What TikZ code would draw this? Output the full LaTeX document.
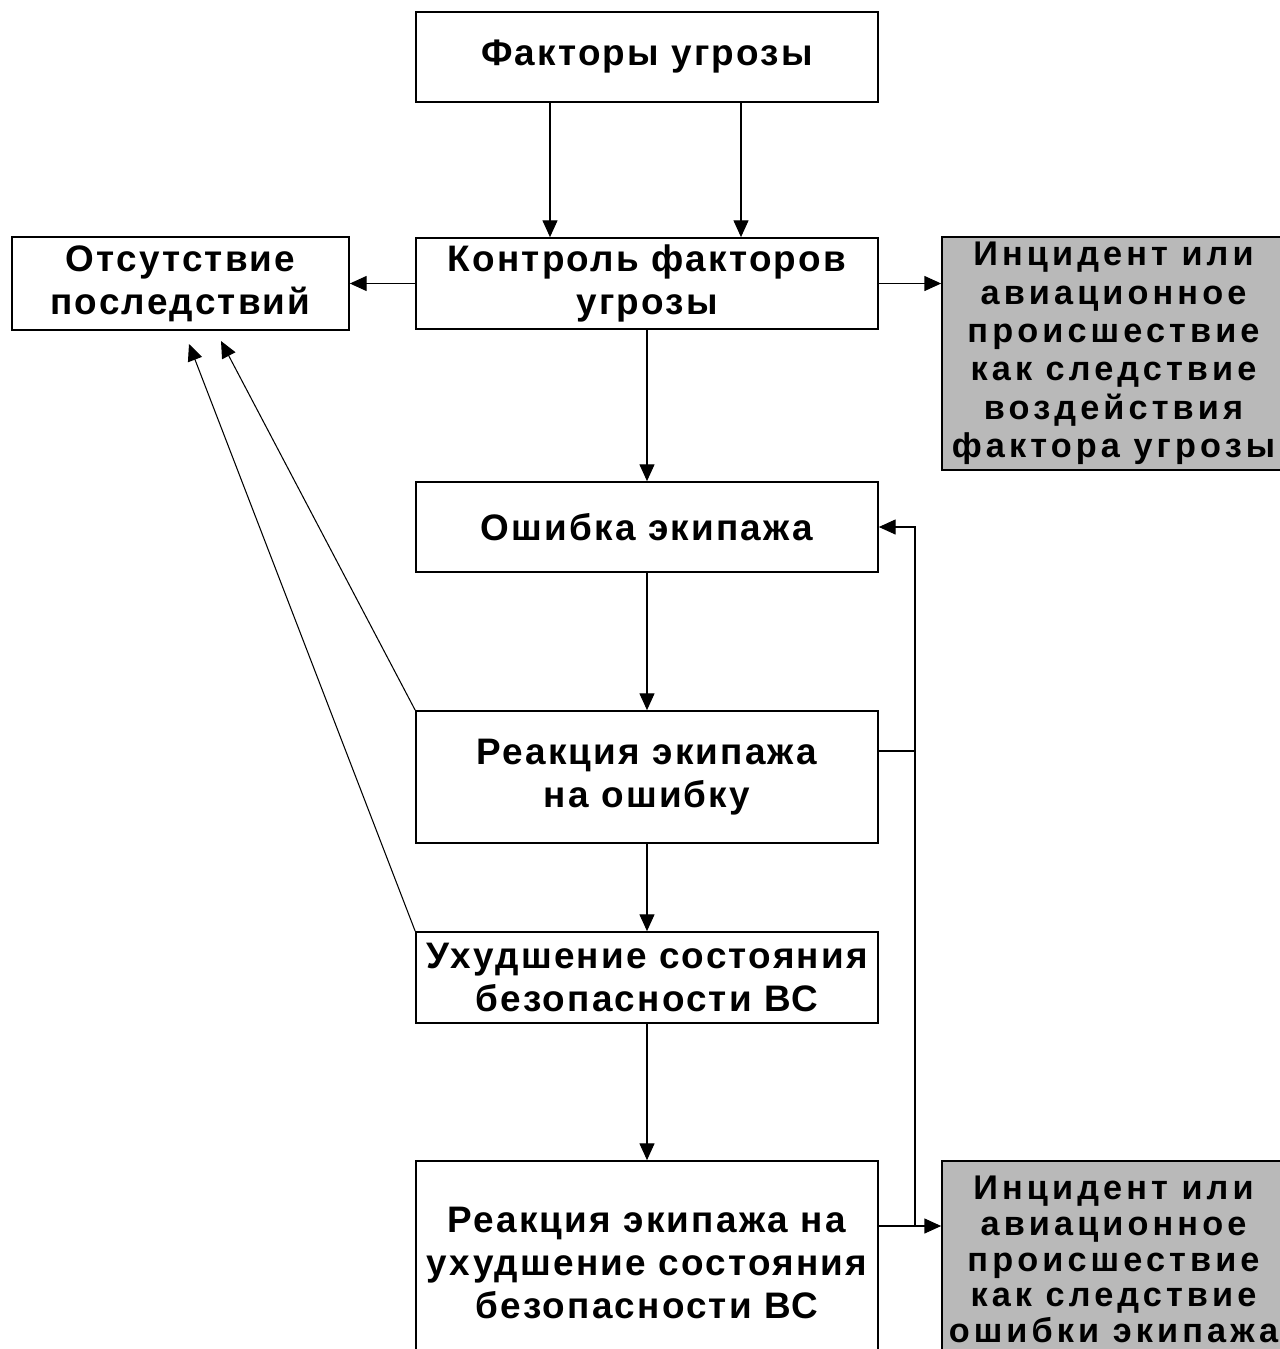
\documentclass[tikz,border=0pt]{standalone}
\usepackage{fontspec}
\setmainfont{Liberation Sans}
\newfontfamily\razbor[LetterSpace=6]{Liberation Sans}
\newfontfamily\razborsh[LetterSpace=12]{Liberation Sans}
\usetikzlibrary{arrows.meta,positioning,calc}

\tikzset{
  blok/.style={draw, line width=1pt, align=center, inner sep=0pt,
    font=\razbor\bfseries\fontsize{21}{24.5}\selectfont, minimum width=9.24cm},
  seryj/.style={blok, fill=gray!55, minimum width=6.86cm,
    font=\razborsh\bfseries\fontsize{19.5}{21.8}\selectfont},
  strelka/.style={-{Triangle[length=9.5pt,width=8.5pt]}, line width=0.6pt},
}

\begin{document}
\begin{tikzpicture}[x=0.02cm, y=-0.02cm]
  \useasboundingbox (0,0) rectangle (1280,1349);
  \clip (0,0) rectangle (1280,1349);

  % bloki
  \node[blok, minimum height=1.8cm] (faktory) at (647,57) {Факторы угрозы};
  \node[blok, minimum height=1.82cm] (kontrol) at (647,283.5) {Контроль факторов\\угрозы};
  \node[blok, minimum width=6.74cm, minimum height=1.86cm] (otsut) at (180.5,283.5) {Отсутствие\\последствий};
  \node[seryj, minimum height=4.66cm] (incid1) at (1113.5,353.5) {Инцидент или\\авиационное\\происшествие\\как следствие\\воздействия\\фактора угрозы};
  \node[blok, minimum height=1.8cm] (oshibka) at (647,527) {Ошибка экипажа};
  \node[blok, minimum height=2.64cm] (reakcia) at (647,777) {Реакция экипажа\\на ошибку};
  \node[blok, minimum height=1.82cm] (uhud) at (647,977.5) {Ухудшение состояния\\безопасности ВС};
  \node[blok, minimum height=4.08cm] (reakcia2) at (647,1263) {Реакция экипажа на\\ухудшение состояния\\безопасности ВС};
  \node[seryj, minimum height=3.94cm, font=\razborsh\bfseries\fontsize{19.5}{20.3}\selectfont]
    (incid2) at (1113.5,1259.5) {Инцидент или\\авиационное\\происшествие\\как следствие\\ошибки экипажа};

  % svyazi
  \coordinate (obhod) at (915,1226);
  \coordinate (cel1) at (221,341);
  \coordinate (cel2) at (189,344);

  \draw[strelka] (faktory.south -| 550,0) -- (kontrol.north -| 550,0);
  \draw[strelka] (faktory.south -| 741,0) -- (kontrol.north -| 741,0);
  \draw[strelka] (kontrol.west) -- (otsut.east);
  \draw[strelka] (kontrol.east) -- (kontrol.east -| incid1.west);
  \draw[strelka] (kontrol.south) -- (oshibka.north);
  \draw[strelka] (oshibka.south) -- (reakcia.north);
  \draw[strelka] (reakcia.south) -- (uhud.north);
  \draw[strelka] (uhud.south) -- (reakcia2.north);
  \draw[strelka] (reakcia2.east |- obhod) -- (incid2.west |- obhod);
  \draw[strelka] (obhod) |- (oshibka.east);
  \draw[line width=0.6pt] (reakcia.east |- 0,751) -- (obhod |- 0,751);
  \draw[strelka] (reakcia.north west) -- (cel1);
  \draw[strelka] (uhud.north west) -- (cel2);
\end{tikzpicture}
\end{document}
